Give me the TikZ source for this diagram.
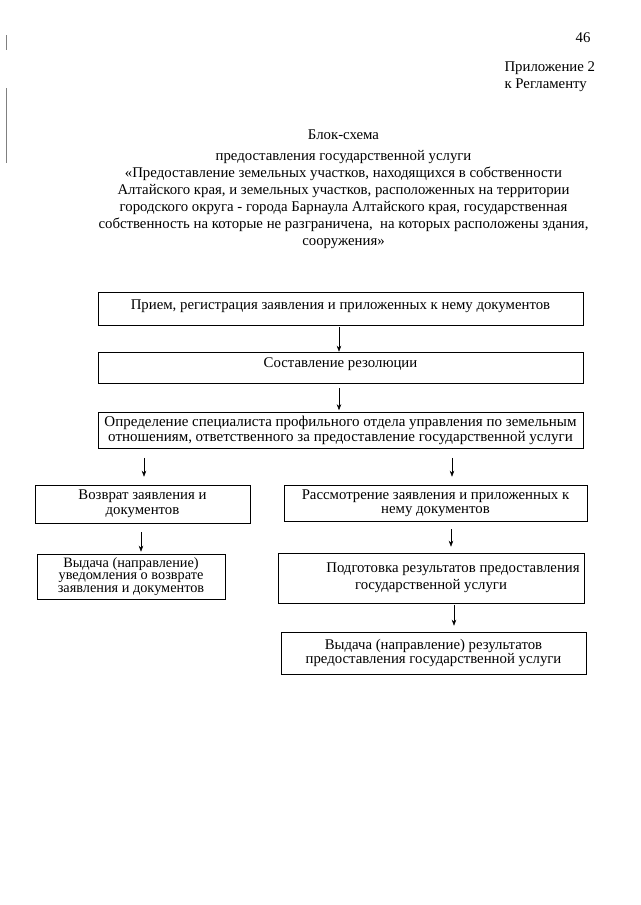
\documentclass[tikz,border=0pt]{standalone}
\usepackage{fontspec}
\setmainfont{Liberation Serif}
\usetikzlibrary{arrows.meta}

\begin{document}
\begin{tikzpicture}[x=1pt, y=-1pt, font=\fontsize{14.8}{17}\selectfont,
    box/.style={draw, line width=0.6pt, inner sep=0pt, align=center},
    arr/.style={-{Stealth[length=6pt,width=4.5pt]}, line width=0.5pt}]
    \useasboundingbox[fill=white] (0,0) rectangle (640,905);
    \draw[gray, line width=0.6pt] (6,35) -- (6,50);
    \draw[gray, line width=0.6pt] (6,88) -- (6,163);
    \node[anchor=east] (page) at (594,38) {46};
    \node[anchor=west, align=left] (appx) at (501,77) {Приложение 2\\к Регламенту};
    \node[align=center] (title) at (343.5,189) {Блок-схема\\[4pt]
        предоставления государственной услуги\\
        «Предоставление земельных участков, находящихся в собственности\\
        Алтайского края, и земельных участков, расположенных на территории\\
        городского округа - города Барнаула Алтайского края, государственная\\
        собственность на которые не разграничена,\ \ на которых расположены здания,\\
        сооружения»};
    \node[box, minimum width=485, minimum height=33, text depth=8pt] (b1) at (340.5,308.5)
        {Прием, регистрация заявления и приложенных к нему документов};
    \node[box, minimum width=485, minimum height=31, text depth=9pt] (b2) at (340.5,367.5)
        {Составление резолюции};
    \node[box, minimum width=485, minimum height=36, font=\fontsize{15}{13.5}\selectfont] (b3) at (340.5,430.5)
        {Определение специалиста профильного отдела управления по земельным\\
        отношениям, ответственного за предоставление государственной услуги};
    \node[box, minimum width=215, minimum height=38, font=\fontsize{14.8}{15}\selectfont] (b4) at (142.5,504)
        {Возврат заявления и\\документов};
    \node[box, minimum width=303, minimum height=36, font=\fontsize{14.8}{14}\selectfont] (b5) at (435.5,503)
        {Рассмотрение заявления и приложенных к\\нему документов};
    \node[box, minimum width=188, minimum height=45, font=\fontsize{14.3}{12.8}\selectfont] (b6) at (131,576.5)
        {Выдача (направление)\\уведомления о возврате\\заявления и документов};
    \node[box, minimum width=306, minimum height=50] (b7) at (431,578)
        {\hspace*{44pt}Подготовка результатов предоставления\\государственной услуги};
    \node[box, minimum width=305, minimum height=42, font=\fontsize{14.8}{14}\selectfont] (b8) at (433.5,653)
        {Выдача (направление) результатов\\предоставления государственной услуги};
    \draw[arr, shorten <=2pt] (b1.south -| 339,0) -- (b2.north -| 339,0);
    \draw[arr, shorten <=5pt, shorten >=2pt] (b2.south -| 339,0) -- (b3.north -| 339,0);
    \draw[arr, shorten <=9pt, shorten >=8pt] (b3.south -| 144,0) -- (b4.north -| 144,0);
    \draw[arr, shorten <=9pt, shorten >=8pt] (b3.south -| 452,0) -- (b5.north -| 452,0);
    \draw[arr, shorten <=9pt, shorten >=2pt] (b4.south -| 141,0) -- (b6.north -| 141,0);
    \draw[arr, shorten <=8pt, shorten >=6pt] (b5.south -| 451,0) -- (b7.north -| 451,0);
    \draw[arr, shorten <=2pt, shorten >=6pt] (b7.south -| 454,0) -- (b8.north -| 454,0);
\end{tikzpicture}
\end{document}
